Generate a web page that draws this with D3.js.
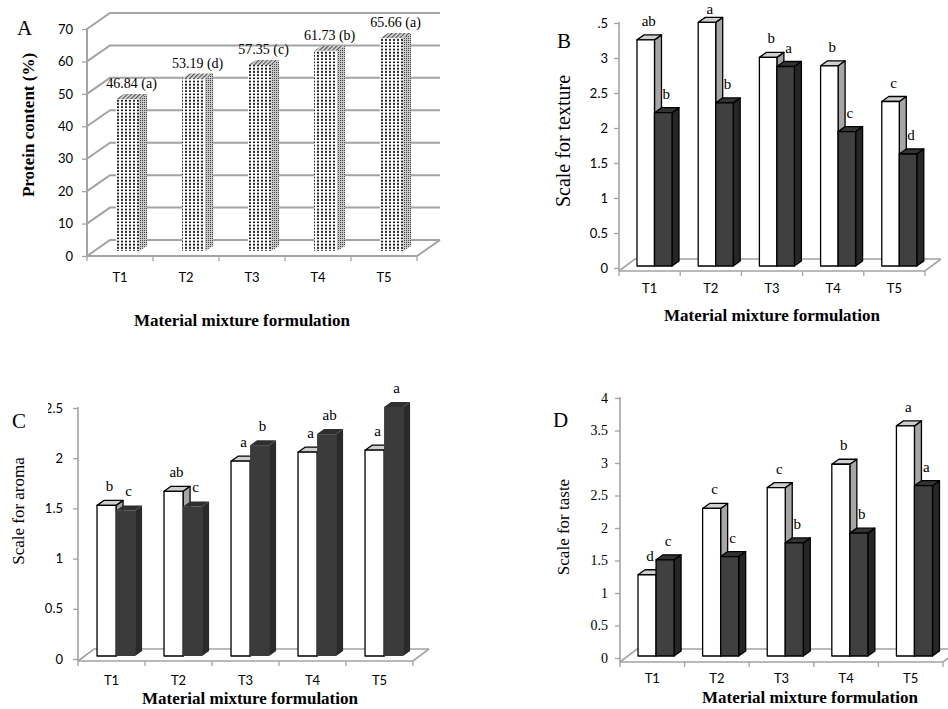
<!DOCTYPE html>
<html>
<head>
<meta charset="utf-8">
<script src="https://cdn.jsdelivr.net/npm/d3@7"></script>
<style>
body { margin: 0; background: #fff; }
svg { display: block; }
</style>
</head>
<body>
<svg id="fig" width="948" height="709"></svg>
<script>
// data
var categories = ["T1", "T2", "T3", "T4", "T5"];

var proteinValues  = [46.84, 53.19, 57.35, 61.73, 65.66];
var proteinLetters = ["a", "d", "c", "b", "a"];
var proteinTicks   = [0, 10, 20, 30, 40, 50, 60, 70];

var textureWhite        = [3.23, 3.48, 2.98, 2.86, 2.35];
var textureDark         = [2.19, 2.33, 2.85, 1.92, 1.60];
var textureWhiteLetters = ["ab", "a", "b", "b", "c"];
var textureDarkLetters  = ["b", "b", "a", "c", "d"];
var textureTicks        = [0, 0.5, 1, 1.5, 2, 2.5, 3, 3.5];

var aromaWhite        = [1.50, 1.64, 1.94, 2.03, 2.05];
var aromaDark         = [1.45, 1.49, 2.10, 2.21, 2.48];
var aromaWhiteLetters = ["b", "ab", "a", "a", "a"];
var aromaDarkLetters  = ["c", "c", "b", "ab", "a"];
var aromaTicks        = [0, 0.5, 1, 1.5, 2, 2.5];

var tasteWhite        = [1.25, 2.27, 2.59, 2.95, 3.54];
var tasteDark         = [1.48, 1.53, 1.74, 1.89, 2.62];
var tasteWhiteLetters = ["d", "c", "c", "b", "a"];
var tasteDarkLetters  = ["c", "c", "b", "b", "a"];
var tasteTicks        = [0, 0.5, 1, 1.5, 2, 2.5, 3, 3.5, 4];

var xTitle = "Material mixture formulation";

var SERIF = '"Liberation Serif","Times New Roman",serif';
var SANS  = 'Lato,"Liberation Sans",sans-serif';
var GRID  = "#a3a3a3";

var svg = d3.select("#fig");

// patterns for the dotted bars of panel A
var defs = svg.append("defs");
var pFront = defs.append("pattern").attr("id", "dotFront")
	.attr("patternUnits", "userSpaceOnUse").attr("width", 4).attr("height", 3.2);
pFront.append("rect").attr("width", 4).attr("height", 3.2).attr("fill", "#fff");
pFront.append("rect").attr("x", 1).attr("y", 0.6).attr("width", 2).attr("height", 1.8).attr("fill", "#1e1e1e");

var pSide = defs.append("pattern").attr("id", "dotSide")
	.attr("patternUnits", "userSpaceOnUse").attr("width", 2).attr("height", 2);
pSide.append("rect").attr("width", 2).attr("height", 2).attr("fill", "#c8c8c8");
pSide.append("rect").attr("width", 1).attr("height", 1).attr("fill", "#444");

var pTop = defs.append("pattern").attr("id", "hatchTop")
	.attr("patternUnits", "userSpaceOnUse").attr("width", 3).attr("height", 3)
	.attr("patternTransform", "rotate(45)");
pTop.append("rect").attr("width", 3).attr("height", 3).attr("fill", "#e0e0e0");
pTop.append("rect").attr("width", 1.3).attr("height", 3).attr("fill", "#555");

var whiteBar = { front: "#fff", side: "#a6a6a6", top: "#cfcfcf", stroke: "#000" };
var darkBar  = { front: "#404040", side: "#262626", top: "#333", stroke: "#000" };
var darkBarC = { front: "#3b3b3b", side: "#2a2a2a", top: "#2f2f2f", stroke: "none" };
var dotBar   = { front: "url(#dotFront)", side: "url(#dotSide)", top: "url(#hatchTop)", stroke: "none" };

var panels = [
	{
		letter: "A", letterPos: [17, 35], letterSize: 21,
		xRange: [87, 417], y0: 256, yTop: 29, yF: 256, ticks: proteinTicks,
		floor: [23, -16], grid: true,
		bar: { start: 0.44, width: 0.35, oy: -5, ddx: 8, ddy: -5 },
		series: [{ values: proteinValues, style: dotBar }],
		valueLabels: proteinLetters,
		yFont: SANS, yFontSize: 13, yPad: 9, xLabelY: 282,
		yTitle: "Protein content (%)", yTitleBold: true, yTitleSize: 17, yTitlePos: [28, 125],
		xTitlePos: [242, 326]
	},
	{
		letter: "B", letterPos: [557, 48], letterSize: 21,
		xRange: [619, 925], y0: 268, yTop: 23, yF: 271, ticks: textureTicks,
		floor: [16, -12], grid: false,
		bar: { start: 0.294, width: 0.286, oy: -2, ddx: 7, ddy: -5 },
		series: [
			{ values: textureWhite, style: whiteBar, letters: textureWhiteLetters },
			{ values: textureDark, style: darkBar, letters: textureDarkLetters }
		],
		yFont: SANS, yFontSize: 13, yPad: 6, xLabelY: 293, clipX: 597,
		yTitle: "Scale for texture", yTitleBold: false, yTitleSize: 20, yTitlePos: [563, 141],
		xTitlePos: [772, 321]
	},
	{
		letter: "C", letterPos: [12, 428], letterSize: 21,
		xRange: [78, 413], y0: 659, yTop: 408, yF: 661, ticks: aromaTicks,
		floor: [16, -12], grid: false,
		bar: { start: 0.284, width: 0.284, oy: -3, ddx: 7, ddy: -5 },
		series: [
			{ values: aromaWhite, style: whiteBar, letters: aromaWhiteLetters },
			{ values: aromaDark, style: darkBarC, letters: aromaDarkLetters }
		],
		yFont: SANS, yFontSize: 13, yPad: 10, xLabelY: 685, clipX: 48,
		yTitle: "Scale for aroma", yTitleBold: false, yTitleSize: 17, yTitlePos: [18, 511],
		xTitlePos: [250, 704]
	},
	{
		letter: "D", letterPos: [553, 427], letterSize: 21,
		xRange: [620, 943], y0: 658, yTop: 398, yF: 662, ticks: tasteTicks,
		floor: [17, -13], grid: false,
		bar: { start: 0.279, width: 0.279, oy: -2, ddx: 7, ddy: -5 },
		series: [
			{ values: tasteWhite, style: whiteBar, letters: tasteWhiteLetters },
			{ values: tasteDark, style: darkBar, letters: tasteDarkLetters }
		],
		yFont: SERIF, yFontSize: 14, yPad: 7, xLabelY: 683,
		yTitle: "Scale for taste", yTitleBold: false, yTitleSize: 17, yTitlePos: [563, 527],
		xTitlePos: [810, 703]
	}
];

panels.forEach(drawPanel);

function drawPanel(p, pi) {
	var g = svg.append("g").attr("class", "panel-" + p.letter);
	var xL = p.xRange[0], xR = p.xRange[1];
	var fdx = p.floor[0], fdy = p.floor[1];
	var yMax = d3.max(p.ticks);

	var x = d3.scaleBand().domain(categories).range(p.xRange);
	var y = d3.scaleLinear().domain([0, yMax]).range([p.y0, p.yTop]);
	var bw = x.bandwidth();

	// walls / floor
	var lines = g.append("g").attr("fill", "none").attr("stroke", GRID)
		.attr("stroke-width", p.grid ? 2 : 1.6);
	var gridVals = p.grid ? p.ticks : [0];
	gridVals.forEach(function (v) {
		var yy = v === 0 ? p.yF : y(v);
		lines.append("path")
			.attr("d", "M" + xL + "," + yy + "L" + (xL + fdx) + "," + (yy + fdy) + "H" + (xR + fdx));
	});
	lines.append("path")
		.attr("d", "M" + xL + "," + p.yF + "H" + xR + "L" + (xR + fdx) + "," + (p.yF + fdy));
	lines.append("path")
		.attr("d", "M" + xL + "," + p.yF + "V" + (y(yMax) - 1));

	// x tick marks at band edges
	d3.range(categories.length + 1).forEach(function (i) {
		var xx = xL + i * x.step();
		lines.append("path").attr("stroke-width", 1.3)
			.attr("d", "M" + xx + "," + p.yF + "v5");
	});

	// y axis
	var yAxis = d3.axisLeft(y).tickValues(p.ticks).tickSize(5).tickPadding(p.yPad)
		.tickFormat(function (d) { return String(d); });
	var ya = g.append("g").attr("transform", "translate(" + xL + ",0)").call(yAxis);
	ya.select(".domain").remove();
	ya.selectAll(".tick line").attr("stroke", GRID).attr("stroke-width", 1.3);
	ya.selectAll(".tick text").attr("fill", "#000")
		.style("font-family", p.yFont).style("font-size", p.yFontSize + "px");
	if (p.clipX !== undefined) {
		// the top label is cut at its left edge in the original figure
		var cid = "clipY" + pi;
		defs.append("clipPath").attr("id", cid).append("rect")
			.attr("x", p.clipX - xL).attr("y", -30).attr("width", 100).attr("height", 60);
		ya.selectAll(".tick").filter(function (d) { return d === yMax; })
			.select("text").attr("clip-path", "url(#" + cid + ")");
	}

	// x axis labels
	var xa = g.append("g").attr("transform", "translate(0," + p.yF + ")")
		.call(d3.axisBottom(x).tickSize(0));
	xa.select(".domain").remove();
	xa.selectAll(".tick text").attr("y", p.xLabelY - p.yF).attr("dy", 0).attr("fill", "#000")
		.style("font-family", SANS).style("font-size", "13px");

	// bars
	var barW = p.bar.width * bw;
	var ddx = p.bar.ddx, ddy = p.bar.ddy;
	var base = y(0) + p.bar.oy;
	var bars = g.append("g");
	var labels = g.append("g").attr("text-anchor", "middle")
		.style("font-family", SERIF).style("font-size", "15px");

	categories.forEach(function (c, ci) {
		p.series.forEach(function (s, si) {
			var v = s.values[ci];
			var bx = x(c) + p.bar.start * bw + si * barW;
			var top = y(v) + p.bar.oy;
			var st = s.style;
			var b = bars.append("g").attr("stroke", st.stroke).attr("stroke-width", 1.3)
				.attr("stroke-linejoin", "round");
			b.append("path").attr("fill", st.side)
				.attr("d", "M" + (bx + barW) + "," + top + "l" + ddx + "," + ddy +
					"V" + (base + ddy) + "L" + (bx + barW) + "," + base + "Z");
			b.append("path").attr("fill", st.top)
				.attr("d", "M" + bx + "," + top + "l" + ddx + "," + ddy +
					"h" + barW + "L" + (bx + barW) + "," + top + "Z");
			b.append("rect").attr("fill", st.front)
				.attr("x", bx).attr("y", top).attr("width", barW).attr("height", base - top);

			if (s.letters) {
				labels.append("text")
					.attr("x", bx + barW / 2 + 3).attr("y", Math.max(top - 14, 14))
					.text(s.letters[ci]);
			} else if (p.valueLabels) {
				labels.append("text")
					.style("font-size", "14px")
					.attr("x", bx + barW / 2 + 4).attr("y", top - 11)
					.text(v.toFixed(2) + " (" + p.valueLabels[ci] + ")");
			}
		});
	});

	// panel letter
	g.append("text").attr("x", p.letterPos[0]).attr("y", p.letterPos[1])
		.style("font-family", SERIF).style("font-size", p.letterSize + "px")
		.text(p.letter);

	// y title
	g.append("text")
		.attr("transform", "translate(" + p.yTitlePos[0] + "," + p.yTitlePos[1] + ") rotate(-90)")
		.attr("text-anchor", "middle").attr("dominant-baseline", "central")
		.style("font-family", SERIF).style("font-size", p.yTitleSize + "px")
		.style("font-weight", p.yTitleBold ? "bold" : "normal")
		.text(p.yTitle);

	// x title
	g.append("text").attr("x", p.xTitlePos[0]).attr("y", p.xTitlePos[1])
		.attr("text-anchor", "middle")
		.style("font-family", SERIF).style("font-size", "17px").style("font-weight", "bold")
		.text(xTitle);
}
</script>
</body>
</html>
